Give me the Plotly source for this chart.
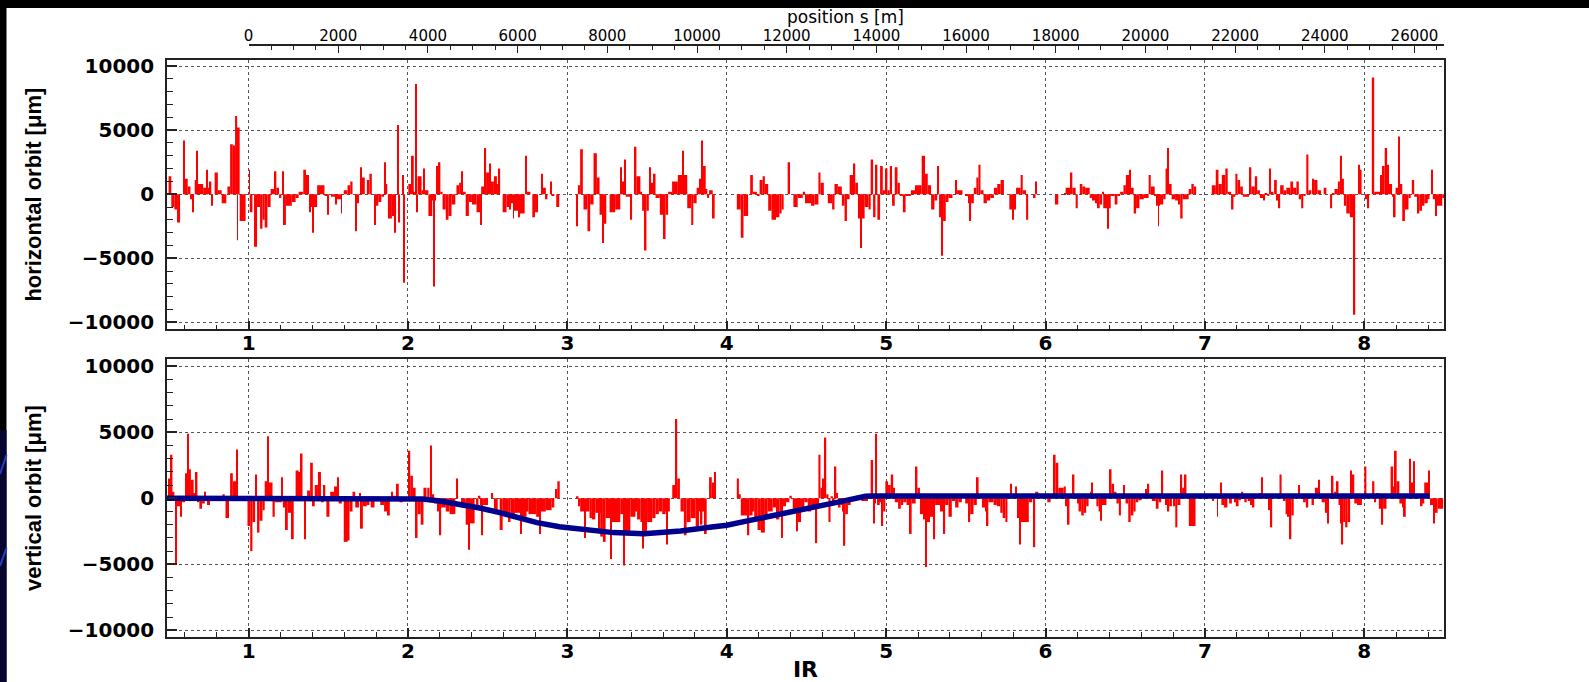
import plotly.graph_objects as go

# ---------------- data (positions in IR units, orbit in micrometres) ----------------
# horizontal orbit: left edge of each bin and its value; a bin runs to the next left edge
h_start = [
    0.498, 0.515, 0.534, 0.551, 0.570, 0.592, 0.597, 0.618, 0.635, 0.647,
    0.652, 0.662, 0.676, 0.681, 0.715, 0.737, 0.742, 0.751, 0.766, 0.771,
    0.787, 0.807, 0.831, 0.860, 0.867, 0.884, 0.901, 0.915, 0.928, 0.932,
    0.944, 0.981, 1.003, 1.007, 1.024, 1.034, 1.053, 1.072, 1.087, 1.101,
    1.118, 1.138, 1.162, 1.174, 1.191, 1.205, 1.210, 1.222, 1.234, 1.271,
    1.295, 1.314, 1.343, 1.360, 1.379, 1.391, 1.403, 1.408, 1.430, 1.476,
    1.495, 1.500, 1.517, 1.548, 1.553, 1.580, 1.585, 1.597, 1.621, 1.638,
    1.652, 1.669, 1.676, 1.693, 1.700, 1.710, 1.729, 1.742, 1.758, 1.773,
    1.790, 1.797, 1.814, 1.833, 1.850, 1.857, 1.870, 1.874, 1.899, 1.918,
    1.925, 1.935, 1.942, 1.950, 1.966, 1.973, 1.980, 2.002, 2.019, 2.036,
    2.048, 2.054, 2.060, 2.085, 2.099, 2.104, 2.128, 2.152, 2.159, 2.164,
    2.176, 2.188, 2.203, 2.217, 2.237, 2.254, 2.273, 2.297, 2.304, 2.321,
    2.338, 2.345, 2.362, 2.382, 2.401, 2.430, 2.454, 2.459, 2.483, 2.490,
    2.514, 2.520, 2.539, 2.558, 2.570, 2.578, 2.594, 2.618, 2.635, 2.643,
    2.659, 2.665, 2.696, 2.702, 2.732, 2.739, 2.746, 2.768, 2.780, 2.797,
    2.816, 2.836, 2.842, 2.865, 2.875, 2.894, 2.900, 2.918, 2.930, 2.949,
    3.060, 3.066, 3.080, 3.097, 3.101, 3.126, 3.143, 3.164, 3.185, 3.202,
    3.223, 3.227, 3.244, 3.265, 3.300, 3.332, 3.339, 3.356, 3.366, 3.398,
    3.406, 3.422, 3.433, 3.458, 3.469, 3.485, 3.496, 3.511, 3.515, 3.523,
    3.542, 3.553, 3.580, 3.605, 3.616, 3.632, 3.657, 3.693, 3.720, 3.731,
    3.752, 3.777, 3.790, 3.811, 3.828, 3.840, 3.851, 3.868, 3.878, 3.889,
    3.912, 3.924, 4.063, 4.088, 4.105, 4.134, 4.147, 4.164, 4.189, 4.206,
    4.225, 4.239, 4.260, 4.281, 4.309, 4.330, 4.344, 4.357, 4.382, 4.397,
    4.418, 4.445, 4.477, 4.491, 4.529, 4.550, 4.575, 4.588, 4.609, 4.634,
    4.661, 4.676, 4.697, 4.722, 4.739, 4.754, 4.771, 4.792, 4.806, 4.823,
    4.836, 4.844, 4.865, 4.890, 4.903, 4.918, 4.933, 4.945, 4.962, 4.979,
    4.996, 5.008, 5.023, 5.037, 5.054, 5.071, 5.086, 5.105, 5.122, 5.155,
    5.181, 5.223, 5.244, 5.261, 5.282, 5.303, 5.320, 5.332, 5.345, 5.357,
    5.374, 5.391, 5.416, 5.433, 5.445, 5.479, 5.495, 5.516, 5.524, 5.533,
    5.550, 5.566, 5.579, 5.592, 5.611, 5.632, 5.653, 5.676, 5.697, 5.718,
    5.739, 5.773, 5.790, 5.802, 5.815, 5.844, 5.857, 5.878, 5.891, 5.926,
    5.937, 5.945, 6.059, 6.080, 6.116, 6.126, 6.158, 6.168, 6.189, 6.202,
    6.215, 6.231, 6.249, 6.277, 6.291, 6.313, 6.323, 6.340, 6.355, 6.362,
    6.387, 6.394, 6.409, 6.434, 6.451, 6.468, 6.489, 6.504, 6.526, 6.536,
    6.553, 6.568, 6.589, 6.617, 6.647, 6.660, 6.685, 6.696, 6.707, 6.711,
    6.717, 6.738, 6.753, 6.766, 6.774, 6.791, 6.813, 6.834, 6.845, 6.860,
    6.898, 6.915, 6.930, 6.945, 7.043, 7.068, 7.085, 7.106, 7.128, 7.143,
    7.164, 7.179, 7.191, 7.204, 7.221, 7.238, 7.277, 7.281, 7.291, 7.313,
    7.328, 7.345, 7.366, 7.374, 7.391, 7.404, 7.413, 7.430, 7.434, 7.451,
    7.462, 7.472, 7.494, 7.511, 7.536, 7.553, 7.574, 7.589, 7.604, 7.617,
    7.632, 7.636, 7.649, 7.668, 7.674, 7.685, 7.706, 7.728, 7.745, 7.762,
    7.785, 7.798, 7.802, 7.813, 7.834, 7.847, 7.860, 7.872, 7.887, 7.909,
    7.934, 7.943, 7.962, 7.972, 7.983, 8.004, 8.017, 8.030, 8.047, 8.062,
    8.100, 8.111, 8.128, 8.143, 8.153, 8.174, 8.185, 8.196, 8.213, 8.223,
    8.238, 8.255, 8.277, 8.291, 8.298, 8.313, 8.334, 8.345, 8.362, 8.377,
    8.398, 8.409, 8.419, 8.430, 8.447, 8.455, 8.489,
]
h_orbit = [
    1400, -1000, -1200, -2200, 0, 4200, 1200, 600, -400, -1400,
    0, 1100, 3400, 800, 500, 1900, 500, 1000, -900, 0,
    1700, 300, -700, 0, 600, 3900, 3800, 6100, -3600, 5200,
    -2100, 0, 1900, -1400, 0, -4100, -1000, -2700, -2000, -2600,
    -1000, 400, 1800, 500, -300, 0, 1800, -2400, -900, -600,
    -300, 200, 1900, 1500, -1400, -1000, -3000, -1000, 700, -100,
    -1600, 0, -200, -800, -400, -1500, 0, 300, 700, 1000,
    0, -2900, -700, 0, 2100, 1300, 0, 1100, 1600, 0,
    -2400, -900, -600, -200, 2500, 800, 0, -1900, -1700, -3000,
    0, 5400, -2200, 0, 1500, -6900, 0, 800, 3000, 200,
    8600, -1400, 1400, 300, 2000, 300, -1700, -500, -7200, -500,
    2200, 2500, 200, -1200, -2000, -1700, -800, 0, 700, 900,
    1800, 200, -1700, -600, -800, -1400, -2400, 600, 3600, 1700,
    2400, 1000, 1400, 800, 2000, 0, -1400, -1000, -1200, -700,
    -1900, -1300, -1800, -1500, 0, 3000, 200, 0, -1800, -1400,
    0, 1600, 500, -400, 0, 1000, -100, 0, -1000, 0,
    -2500, 700, 3500, 0, -1200, -2900, -800, 3200, 1300, -1600,
    -3800, -2300, 0, -1400, -1200, 2100, 1000, 2700, -200, -2000,
    0, 3700, 1400, 200, -1300, -4400, -1300, 0, 2100, 900,
    1600, -300, -1600, -3500, -1600, 200, 1000, 1500, 3400, 1500,
    -1100, -2400, -700, 500, 1200, 4200, 2200, 400, -300, 300,
    -1900, 0, -1200, -3400, -1700, 0, 1500, 200, -100, 1100,
    1400, 800, -1300, -2000, -1800, -1500, -1200, 0, 2500, 0,
    -1000, -300, 200, -700, -900, -800, 1700, 900, 0, -700,
    -1200, 800, 600, -900, -2100, -400, 1500, 2400, 900, -1900,
    -4200, -1900, -1000, -1200, 2700, -1800, 2300, -2000, 2200, 300,
    2000, 300, 2200, -900, 2100, 900, -100, -1400, -100, 300,
    700, 3000, 1600, 700, -1200, -500, 2200, -1800, -4800, -2100,
    -600, -300, 0, 1100, 300, 0, -100, -700, -2100, -700,
    500, 1300, 2300, 300, -700, -500, -300, 500, 800, 1100,
    0, -1200, -2000, -1200, 500, 1500, 300, -2000, 0, -300,
    1000, 0, -800, 0, 100, 500, 1700, 500, -1100, 0,
    800, 600, 500, -300, -500, -700, -1100, -800, 200, -1100,
    -2700, -1100, -100, -800, -100, 200, 700, 1500, 1900, 500,
    -1500, -1100, -400, -300, 1500, 600, -100, -900, -2500, -900,
    -800, -400, 2000, 3600, 800, -400, -500, -800, -1900, -400,
    400, 800, 600, 0, 700, 1900, 800, 1500, 2000, 200,
    -1200, -200, 1600, 1100, 600, -200, 0, 2100, 600, 1400,
    300, -300, -500, 100, -100, 2000, 200, 0, 1100, -500,
    -1100, 700, 300, 500, 1000, 500, 1000, -400, -1100, -100,
    0, 3100, 300, 0, 1200, 1100, 300, 0, 500, 0,
    -1100, 0, 100, 400, 1000, 3000, 1200, -900, -1500, -1800,
    -9400, 0, 2300, 1900, 0, -400, -1100, 0, 9100, 200,
    1500, 2200, 3600, 2300, 800, -200, -1800, 500, 4500, 800,
    -2100, -1200, -300, 0, 1100, -200, -1500, -1300, -900, -700,
    -400, 0, 1900, -400, -1700, -900, -300,
]
h_end = 8.505

# vertical orbit
v_start = [
    0.498, 0.507, 0.522, 0.534, 0.541, 0.551, 0.570, 0.582, 0.601, 0.616,
    0.623, 0.638, 0.655, 0.667, 0.679, 0.691, 0.708, 0.725, 0.732, 0.739,
    0.758, 0.787, 0.836, 0.850, 0.855, 0.877, 0.884, 0.901, 0.923, 0.932,
    0.993, 1.010, 1.024, 1.041, 1.046, 1.053, 1.068, 1.087, 1.101, 1.116,
    1.126, 1.150, 1.164, 1.208, 1.215, 1.234, 1.246, 1.266, 1.271, 1.283,
    1.295, 1.314, 1.326, 1.338, 1.350, 1.360, 1.367, 1.386, 1.403, 1.415,
    1.435, 1.454, 1.471, 1.481, 1.488, 1.507, 1.512, 1.536, 1.556, 1.565,
    1.585, 1.597, 1.621, 1.633, 1.652, 1.669, 1.693, 1.705, 1.717, 1.742,
    1.758, 1.766, 1.790, 1.826, 1.850, 1.874, 1.886, 1.894, 1.903, 1.923,
    1.930, 1.942, 1.947, 1.966, 2.002, 2.014, 2.031, 2.048, 2.060, 2.080,
    2.097, 2.116, 2.121, 2.135, 2.140, 2.150, 2.164, 2.188, 2.198, 2.208,
    2.237, 2.261, 2.297, 2.304, 2.314, 2.333, 2.362, 2.377, 2.386, 2.418,
    2.430, 2.442, 2.454, 2.461, 2.471, 2.502, 2.522, 2.534, 2.539, 2.563,
    2.575, 2.594, 2.628, 2.643, 2.671, 2.703, 2.713, 2.744, 2.756, 2.804,
    2.824, 2.833, 2.865, 2.901, 2.918, 2.925, 2.937, 2.952, 3.058, 3.070,
    3.080, 3.105, 3.116, 3.139, 3.154, 3.175, 3.193, 3.202, 3.206, 3.223,
    3.240, 3.269, 3.277, 3.332, 3.349, 3.357, 3.395, 3.427, 3.437, 3.458,
    3.471, 3.479, 3.500, 3.532, 3.553, 3.574, 3.595, 3.616, 3.622, 3.630,
    3.643, 3.658, 3.679, 3.689, 3.706, 3.710, 3.731, 3.748, 3.773, 3.805,
    3.826, 3.836, 3.847, 3.857, 3.874, 3.889, 3.906, 3.920, 3.931, 4.063,
    4.076, 4.088, 4.130, 4.141, 4.162, 4.172, 4.193, 4.214, 4.239, 4.256,
    4.288, 4.309, 4.330, 4.344, 4.353, 4.372, 4.393, 4.408, 4.414, 4.435,
    4.445, 4.466, 4.487, 4.508, 4.529, 4.550, 4.558, 4.567, 4.575, 4.588,
    4.603, 4.613, 4.624, 4.638, 4.651, 4.666, 4.676, 4.687, 4.697, 4.714,
    4.729, 4.735, 4.743, 4.760, 4.777, 4.792, 4.813, 4.827, 4.844, 4.886,
    4.903, 4.918, 4.922, 4.928, 4.932, 4.943, 4.960, 4.970, 4.981, 4.995,
    5.012, 5.029, 5.044, 5.054, 5.075, 5.092, 5.107, 5.128, 5.149, 5.160,
    5.185, 5.196, 5.212, 5.233, 5.244, 5.254, 5.275, 5.296, 5.307, 5.338,
    5.359, 5.370, 5.391, 5.412, 5.433, 5.454, 5.475, 5.496, 5.517, 5.527,
    5.548, 5.569, 5.580, 5.601, 5.622, 5.632, 5.641, 5.674, 5.695, 5.716,
    5.731, 5.748, 5.761, 5.769, 5.780, 5.790, 5.811, 5.821, 5.834, 5.843,
    5.895, 5.916, 5.927, 5.935, 5.954, 6.011, 6.032, 6.053, 6.063, 6.080,
    6.097, 6.114, 6.127, 6.139, 6.150, 6.171, 6.181, 6.198, 6.207, 6.224,
    6.240, 6.255, 6.270, 6.283, 6.289, 6.297, 6.319, 6.333, 6.346, 6.354,
    6.382, 6.403, 6.414, 6.430, 6.445, 6.460, 6.473, 6.492, 6.498, 6.502,
    6.519, 6.534, 6.551, 6.565, 6.582, 6.603, 6.614, 6.629, 6.639, 6.650,
    6.667, 6.692, 6.709, 6.726, 6.738, 6.751, 6.762, 6.776, 6.793, 6.804,
    6.814, 6.827, 6.846, 6.857, 6.873, 6.884, 6.899, 6.941, 7.046, 7.057,
    7.063, 7.072, 7.076, 7.082, 7.095, 7.103, 7.120, 7.141, 7.152, 7.169,
    7.183, 7.194, 7.211, 7.226, 7.232, 7.240, 7.247, 7.262, 7.268, 7.283,
    7.300, 7.310, 7.321, 7.342, 7.354, 7.363, 7.384, 7.401, 7.413, 7.422,
    7.468, 7.481, 7.489, 7.506, 7.521, 7.532, 7.542, 7.557, 7.584, 7.595,
    7.612, 7.616, 7.633, 7.648, 7.669, 7.684, 7.690, 7.711, 7.719, 7.732,
    7.753, 7.768, 7.777, 7.796, 7.806, 7.810, 7.827, 7.838, 7.853, 7.859,
    7.867, 7.880, 7.894, 7.911, 7.922, 7.937, 7.954, 7.985, 8.000, 8.013,
    8.049, 8.063, 8.074, 8.091, 8.106, 8.118, 8.139, 8.165, 8.181, 8.192,
    8.203, 8.220, 8.239, 8.249, 8.260, 8.281, 8.291, 8.308, 8.316, 8.354,
    8.365, 8.376, 8.401, 8.412, 8.435, 8.443, 8.460,
]
v_orbit = [
    1500, 3300, 500, 0, -5000, -600, -1400, -300, 1900, 4900,
    2200, 1400, 400, 2000, -300, -800, -400, 500, 0, -500,
    -100, 0, 300, 0, -1500, 0, 1900, 1300, 3700, 0,
    -2100, -4000, -1800, 0, 1800, -2600, -1700, -900, 1300, 4700,
    1200, -1400, -300, 1600, -700, -2400, -1100, 0, -3100, -200,
    2100, 2000, 3400, 0, -3100, 0, 600, 2700, -600, 1000,
    2000, -300, 1000, 0, -1400, 0, 500, 900, 1600, -400,
    0, -3300, -3200, -1000, 500, -700, 400, -2300, -600, -500,
    0, -700, 0, -500, -1000, -1300, 0, 500, 200, 0,
    1100, 0, -300, 0, 3600, 1700, 800, -3000, -1200, -2000,
    800, 0, 800, 0, 4000, 300, -400, -1000, -2800, -700,
    -1000, -1200, 0, 1500, 0, -700, -2000, -3900, -1900, 0,
    -500, 200, -500, -2800, -500, 0, 400, 0, -1200, 0,
    -2400, -1300, -1800, -1500, -1100, -2700, -1400, -1000, -1200, -1400,
    -2700, -1000, -900, -700, 0, 700, 1300, 0, 100, -600,
    -1000, -3000, -1000, -1500, -1600, -1100, -2300, -1100, -2900, -3300,
    -1500, -4600, -1800, -1200, -5100, -2700, -1400, -1000, -1600, -1800,
    -3800, -2500, -1800, -1500, -1200, -1000, -1200, -1000, -3500, -1000,
    0, 1000, 6000, 1500, 0, -1000, -2800, -1800, -1500, -2100,
    -1000, -2000, -1000, -2700, 0, 1600, 1200, 2000, 0, 1500,
    300, -1300, -2800, -1300, -1000, -1600, -2400, -2600, -1500, -1000,
    -700, -1600, -1000, -3000, -600, -300, 200, 0, -800, -2500,
    -1800, -1000, -300, -1000, -800, -500, -3400, -500, 3300, 800,
    1500, 4600, 300, -1800, 100, -500, 2400, 400, -700, -500,
    -1000, -3600, -1200, -500, -200, 0, 200, 0, -200, 0,
    2900, -400, -1900, -400, 4900, -500, -300, -2100, -1000, 1300,
    1000, 1800, 800, -300, -800, -500, -300, -500, -2700, -400,
    2400, 800, -1200, -1600, -5200, -1800, -1400, -3100, -500, -1000,
    -2700, -500, -1400, -200, -700, -300, 0, -400, -1800, -1200,
    -500, 1600, 200, -700, -1000, -2100, -300, -500, -600, -1100,
    -1500, -1800, 0, 300, 1100, 300, 900, -1500, -3500, -1800,
    -300, 0, -3700, 500, 0, -300, 0, 3300, 2700, 800,
    800, 900, -600, -2000, 0, 1800, 300, -400, -1000, -1300,
    -1100, -600, 0, 500, 1200, 200, -600, -1000, -1700, -500,
    0, 2200, 1100, 500, -400, -1300, 0, 1000, 0, -400,
    -1800, -1300, -1000, -300, -100, 0, 300, 700, 1100, 200,
    -200, -800, -300, 2100, 0, -500, -1000, -600, 0, -600,
    -2200, -500, 1800, 800, 1800, 0, -2100, 0, -200, 0,
    200, 0, -1400, 0, 1200, -500, -700, 0, -400, 200,
    -300, -600, -100, 0, 500, 0, -300, 0, -200, -500,
    -700, 0, 200, 400, 1600, 300, 0, -900, -2200, 0,
    1800, 0, -200, -1200, -1400, -3100, -1300, 0, 1000, 300,
    0, -300, -700, 0, -500, 0, 800, 1400, 300, -300,
    -1100, -1900, 0, 1700, 0, 500, 1300, -500, -1900, -3500,
    -1800, -2200, -1800, 2100, 1800, -400, -500, 0, 2400, 0,
    1300, -300, 400, -800, -2000, -800, 0, 2400, 900, 3600,
    1300, -400, -700, -1400, 0, 3000, 1200, 2800, 0, -600,
    -400, 1200, 2100, -500, -1900, -1100, -800,
]
v_end = 8.495

# closed-orbit bump drawn over the vertical orbit
bump_ir = [0.488, 2.05, 2.09, 2.20, 2.33, 2.45, 2.57, 2.69, 2.81, 2.95, 3.08, 3.20,
           3.29, 3.48, 3.60, 3.71, 3.88, 4.00, 4.13, 4.34, 4.55, 4.72, 4.87, 4.91, 8.41]
bump_um = [0, 0, -50, -200, -430, -740, -1070, -1450, -1840, -2150, -2350, -2500,
           -2600, -2680, -2600, -2470, -2220, -2040, -1710, -1150, -610, -230, 150, 180, 180]

ir_range = [0.488, 8.5]
s_range = [0, 26659]          # position s [m] spanned from IR 1 to the right edge
h_yrange = [-10542, 10472]
v_yrange = [-10508, 10531]


def to_bars(starts, vals, end):
    edges = list(starts) + [end]
    xs, ws, ys = [], [], []
    for i, v in enumerate(vals):
        if i + 1 >= len(edges):
            break
        w = edges[i + 1] - edges[i]
        if v == 0 or w <= 0:
            continue
        xs.append(edges[i] + w / 2.0)
        ws.append(w)
        ys.append(v)
    return xs, ws, ys


hx, hw, hy = to_bars(h_start, h_orbit, h_end)
vx, vw, vy = to_bars(v_start, v_orbit, v_end)

RED = "#ff0000"
fig = go.Figure()
fig.add_trace(go.Bar(x=hx, y=hy, width=hw, marker=dict(color=RED, line=dict(width=0)),
                     xaxis="x", yaxis="y", showlegend=False, hoverinfo="skip"))
fig.add_trace(go.Bar(x=vx, y=vy, width=vw, marker=dict(color=RED, line=dict(width=0)),
                     xaxis="x2", yaxis="y2", showlegend=False, hoverinfo="skip"))
fig.add_trace(go.Scatter(x=bump_ir, y=bump_um, mode="lines",
                         line=dict(color="#00008f", width=5.5),
                         xaxis="x2", yaxis="y2", showlegend=False, hoverinfo="skip"))
# carrier for the top position axis
fig.add_trace(go.Scatter(x=s_range, y=[0.5, 0.5], mode="markers", marker=dict(opacity=0),
                         xaxis="x3", yaxis="y3", showlegend=False, hoverinfo="skip"))

L, R, T, B = 167, 145, 46, 45
W, H = 1589, 682
pw, ph = W - L - R, H - T - B


def py(pix):  # pixel row -> paper y
    return (H - B - pix) / ph


def px(pix):  # pixel column -> paper x
    return (pix - L) / pw


frame = "#222222"
tickfont_y = dict(family="DejaVu Sans", size=20, color="black", weight="bold")
tickfont_x = dict(family="DejaVu Sans", size=20, color="black", weight="bold")
ytitle_font = dict(family="Liberation Sans, Arial, sans-serif", size=22, color="black", weight="bold")


def xaxis(anchor, title=None):
    d = dict(range=ir_range, anchor=anchor, tick0=0, dtick=1, ticks="inside", ticklen=9,
             tickwidth=1.5, tickcolor=frame,
             minor=dict(dtick=0.2, tick0=0, ticks="inside", ticklen=5, tickwidth=1.2,
                        tickcolor=frame, showgrid=False),
             showgrid=True, gridcolor="#555555", griddash="dot", gridwidth=1,
             zeroline=False, showline=True, mirror=True, linecolor=frame, linewidth=1.6,
             tickfont=tickfont_x, ticklabelstandoff=-5, tickformat="d")
    if title:
        d["title"] = dict(text=title, standoff=0,
                          font=dict(family="DejaVu Sans", size=22, color="black", weight="bold"))
    return d


def yaxis(anchor, rng, dom, title):
    return dict(range=rng, domain=dom, anchor=anchor, tick0=0, dtick=5000, ticks="inside",
                ticklen=10, tickwidth=1.5, tickcolor=frame, tickformat="d",
                minor=dict(dtick=1000, ticks="inside", ticklen=6, tickwidth=1.2,
                           tickcolor=frame, showgrid=False),
                showgrid=True, gridcolor="#555555", griddash="dot", gridwidth=1,
                zeroline=False, showline=True, mirror=True, linecolor=frame, linewidth=1.6,
                tickfont=tickfont_y, ticklabelstandoff=7,
                title=dict(text=title, font=ytitle_font, standoff=20))


fig.update_layout(
    width=W, height=H,
    margin=dict(l=L, r=R, t=T, b=B, autoexpand=False),
    paper_bgcolor="white", plot_bgcolor="white",
    barmode="overlay",
    xaxis=xaxis("y"),
    xaxis2=xaxis("y2", "IR"),
    yaxis=yaxis("x", h_yrange, [py(329.3), py(60)], "horizontal orbit [μm]"),
    yaxis2=yaxis("x2", v_yrange, [0, py(359.3)], "vertical orbit [μm]"),
    xaxis3=dict(range=s_range, anchor="y3", side="top", domain=[px(248.6), 1],
                tick0=0, dtick=2000, ticks="inside", ticklen=7, tickwidth=1.3, tickcolor=frame,
                tickformat="d",
                minor=dict(dtick=500, ticks="inside", ticklen=4, tickwidth=1, tickcolor=frame),
                showgrid=False, zeroline=False, showline=True, linecolor=frame, linewidth=1.5,
                tickfont=dict(family="DejaVu Sans", size=15, color="black"),
                ticklabelstandoff=-3),
    yaxis3=dict(domain=[0.996, 1.0], anchor="x3", range=[0, 1], visible=False),
    annotations=[dict(text="position s [m]", xref="paper", yref="paper",
                      x=px(846), y=py(17), xanchor="center", yanchor="middle",
                      showarrow=False,
                      font=dict(family="DejaVu Sans", size=17, color="black"))],
)

# slide border: black strips on the top and left, with a navy patch and blue streaks
shapes = [
    dict(type="rect", xref="paper", yref="paper", x0=px(0), x1=px(W), y0=py(0), y1=py(8),
         fillcolor="black", line=dict(width=0), layer="above"),
    dict(type="rect", xref="paper", yref="paper", x0=px(0), x1=px(6.5), y0=py(0), y1=py(H),
         fillcolor="black", line=dict(width=0), layer="above"),
    dict(type="rect", xref="paper", yref="paper", x0=px(0), x1=px(6.5), y0=py(430), y1=py(H),
         fillcolor="#06062e", line=dict(width=0), layer="above"),
    dict(type="line", xref="paper", yref="paper", x0=px(0), x1=px(6.5), y0=py(474), y1=py(455),
         line=dict(color="#2a3cc0", width=2), layer="above"),
    dict(type="line", xref="paper", yref="paper", x0=px(0), x1=px(6.5), y0=py(566), y1=py(548),
         line=dict(color="#2a3cc0", width=2), layer="above"),
]
fig.update_layout(shapes=shapes)

fig.write_html(
    "out.html",
    config={"displayModeBar": False},
    post_script="document.body.style.margin='0';document.body.style.padding='0';"
                "document.body.style.overflow='hidden';",
)
